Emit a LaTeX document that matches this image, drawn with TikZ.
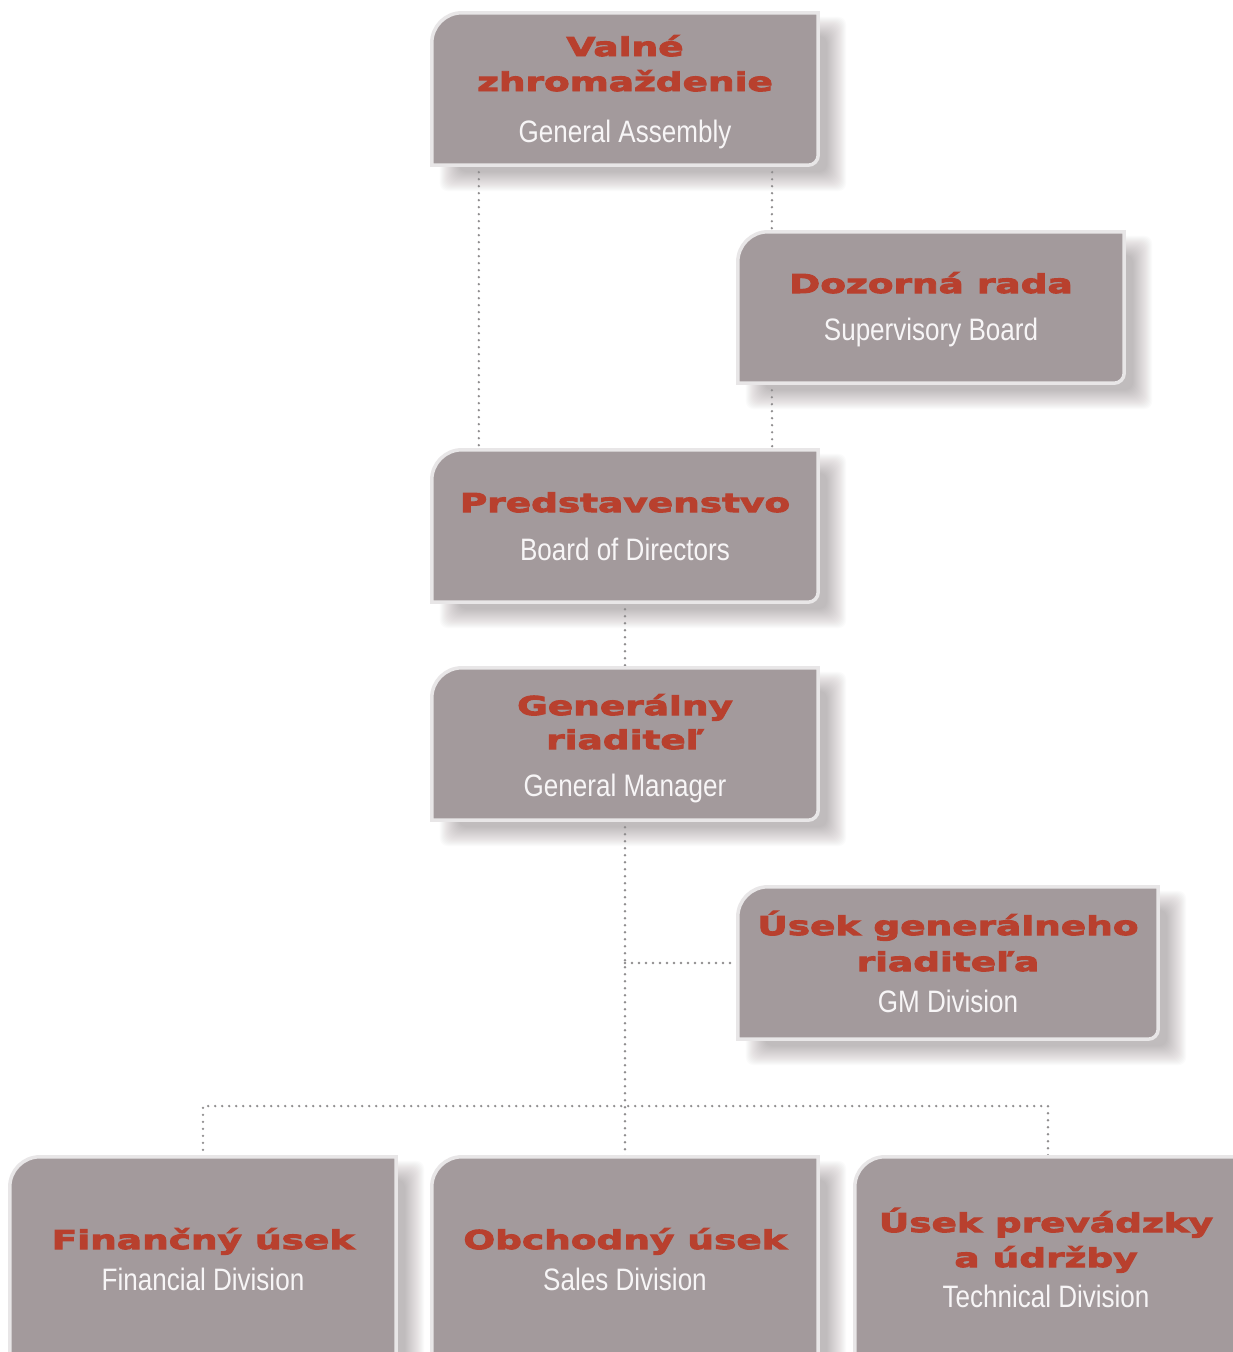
\documentclass[tikz,border=0pt]{standalone}
\usepackage{fontspec}
\usetikzlibrary{calc}
\newfontfamily\redfont[FakeStretch=1.44,FakeBold=3.8]{DejaVu Sans}
\newfontfamily\engfont[FakeStretch=0.84]{Liberation Sans}
\definecolor{boxgray}{HTML}{A39A9C}
\definecolor{boxedge}{HTML}{E8E6E7}
\definecolor{redtxt}{HTML}{B8402E}
\definecolor{engtxt}{HTML}{F7F5F6}
\definecolor{dotgray}{HTML}{8F8D8E}
\definecolor{shadowc}{RGB}{90,75,80}
\tikzset{
 orgbox/.style={rectangle, inner sep=0pt, minimum width=386pt, minimum height=152pt},
 boxpaint/.style={fill=boxgray, draw=boxedge, line width=3.5pt},
 shadowlayer/.style={fill=shadowc, fill opacity=0.02, rounded corners=8pt},
 redline/.style={anchor=base, text=redtxt, inner sep=0pt, font={\redfont\bfseries\fontsize{26}{28}\selectfont}},
 engline/.style={anchor=base, text=engtxt, inner sep=0pt, font={\engfont\fontsize{31}{33}\selectfont}},
 dotline/.style={draw=dotgray, line width=2.6pt, line cap=round, dash pattern=on 0pt off 7pt},
}
\newcommand\orgshadow[1]{%
 \foreach \i in {0,...,19}{%
   \path[shadowlayer] ($(#1.north west)+(8+\i,4+\i)$) rectangle ($(#1.south east)+(28-\i,26-\i)$);}}
\newcommand\orgshape[1]{%
 \path[boxpaint] (#1.south west) -- ($(#1.north west)+(0,30)$)
   .. controls ($(#1.north west)+(0,13.5)$) and ($(#1.north west)+(13.5,0)$) .. ($(#1.north west)+(30,0)$)
   -- (#1.north east) -- ($(#1.south east)+(0,-10)$)
   .. controls ($(#1.south east)+(0,-4.5)$) and ($(#1.south east)+(-4.5,0)$) .. ($(#1.south east)+(-10,0)$)
   -- cycle;}
\begin{document}
\begin{tikzpicture}[x=1pt,y=-1pt]
\useasboundingbox (0,0) rectangle (1233,1352);
\fill[white] (0,0) rectangle (1233,1352);
\clip (0,0) rectangle (1233,1352);
% box anchors
\node[orgbox] (ga) at (625,89) {};
\node[orgbox, minimum height=151pt] (sb) at (931,307.5) {};
\node[orgbox] (bd) at (625,526) {};
\node[orgbox] (gm) at (625,744) {};
\node[orgbox, minimum width=420pt] (gmd) at (948,963) {};
\node[orgbox, minimum height=260pt] (fin) at (203,1287) {};
\node[orgbox, minimum height=260pt] (sal) at (625,1287) {};
\node[orgbox, minimum height=260pt] (tec) at (1048,1287) {};
% shadows
\orgshadow{ga}
\orgshadow{sb}
\orgshadow{bd}
\orgshadow{gm}
\orgshadow{gmd}
\orgshadow{fin}
\orgshadow{sal}
\orgshadow{tec}
% connectors
\draw[dotline] ([xshift=47pt]ga.south west) -- ([xshift=47pt]bd.north west);
\draw[dotline] ([xshift=-46pt]ga.south east) -- ([xshift=34pt]sb.north west);
\draw[dotline] ([xshift=34pt]sb.south west) -- ([xshift=-46pt]bd.north east);
\draw[dotline] (bd.south) -- (gm.north);
\draw[dotline] (gm.south) -- (sal.north);
\coordinate (gmdj) at (gm.south |- gmd.west);
\draw[dotline] (gmdj) -- ([xshift=-5pt]gmd.west);
\coordinate (bus) at (625,1106);
\draw[dotline] (fin.north) |- (bus) -| (tec.north);
% boxes
\orgshape{ga}
\orgshape{sb}
\orgshape{bd}
\orgshape{gm}
\orgshape{gmd}
\orgshape{fin}
\orgshape{sal}
\orgshape{tec}
% texts
\node[redline] (ga1) at (625,56) {Valné};
\node[redline] (ga2) at (625,91) {zhromaždenie};
\node[engline] (ga3) at (625,142) {General Assembly};
\node[redline] (sb1) at (931,293) {Dozorná rada};
\node[engline] (sb2) at (931,340) {Supervisory Board};
\node[redline] (bd1) at (625,512) {Predstavenstvo};
\node[engline] (bd2) at (625,560) {Board of Directors};
\node[redline] (gm1) at (625,715) {Generálny};
\node[redline] (gm2) at (625,749) {riaditeľ};
\node[engline] (gm3) at (625,796) {General Manager};
\node[redline] (gmd1) at (948,935) {Úsek generálneho};
\node[redline] (gmd2) at (948,971) {riaditeľa};
\node[engline] (gmd3) at (948,1012) {GM Division};
\node[redline] (fin1) at (203,1249) {Finančný úsek};
\node[engline] (fin2) at (203,1290) {Financial Division};
\node[redline] (sal1) at (625,1249) {Obchodný úsek};
\node[engline] (sal2) at (625,1290) {Sales Division};
\node[redline] (tec1) at (1046,1232) {Úsek prevádzky};
\node[redline] (tec2) at (1046,1267) {a údržby};
\node[engline] (tec3) at (1046,1307) {Technical Division};
\end{tikzpicture}
\end{document}
